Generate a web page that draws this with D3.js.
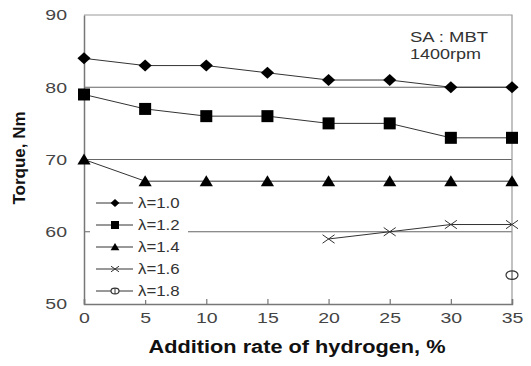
<!DOCTYPE html>
<html lang="en">
<head>
<meta charset="UTF-8">
<title>Torque vs hydrogen addition</title>
<script src="https://d3js.org/d3.v7.min.js"></script>
<style>
  body { margin: 0; background: #fff; }
  text { font-family: "Liberation Sans", Arial, sans-serif; }
</style>
</head>
<body>
<svg id="chart" width="531" height="366"></svg>
<script>
// data
const rates = [0, 5, 10, 15, 20, 25, 30, 35];
const lambda10 = [84, 83, 83, 82, 81, 81, 80, 80];
const lambda12 = [79, 77, 76, 76, 75, 75, 73, 73];
const lambda14 = [70, 67, 67, 67, 67, 67, 67, 67];
const lambda16Rates = [20, 25, 30, 35];
const lambda16 = [59, 60, 61, 61];
const lambda18Rates = [35];
const lambda18 = [54];
const yTicks = [50, 60, 70, 80, 90];
const gridValues = [60, 70, 80];

const series = [
  { name: 'λ=1.0', xs: rates, ys: lambda10, marker: 'diamond' },
  { name: 'λ=1.2', xs: rates, ys: lambda12, marker: 'square' },
  { name: 'λ=1.4', xs: rates, ys: lambda14, marker: 'triangle' },
  { name: 'λ=1.6', xs: lambda16Rates, ys: lambda16, marker: 'cross' },
  { name: 'λ=1.8', xs: lambda18Rates, ys: lambda18, marker: 'circle' }
];

const svg = d3.select('#chart');
const x = d3.scaleLinear().domain([0, 35]).range([84, 512]);
const y = d3.scaleLinear().domain([50, 90]).range([304, 15]);
const axisColor = '#777';
const lineColor = '#333';

// stretch text horizontally like the original picture
function stretch(sel, k) {
  sel.each(function () {
    const w = this.getComputedTextLength();
    d3.select(this).attr('textLength', w * k).attr('lengthAdjust', 'spacingAndGlyphs');
  });
}

// gridlines
svg.append('g').selectAll('line').data(gridValues).join('line')
  .attr('x1', x(0)).attr('x2', x(35))
  .attr('y1', d => y(d)).attr('y2', d => y(d))
  .attr('stroke', '#666').attr('stroke-width', 1.2);

// top and right border
svg.append('path')
  .attr('d', `M${x(0)},${y(90)}H${x(35)}V${y(50)}`)
  .attr('fill', 'none').attr('stroke', '#999').attr('stroke-width', 1.2);

// axes
const yAxis = svg.append('g').attr('transform', `translate(${x(0)},0)`)
  .call(d3.axisLeft(y).tickValues(yTicks).tickSize(0).tickPadding(17));
const xAxis = svg.append('g').attr('transform', `translate(0,${y(50)})`)
  .call(d3.axisBottom(x).tickValues(rates).tickSize(-5).tickPadding(8));
[yAxis, xAxis].forEach(a => {
  a.select('.domain').attr('stroke', axisColor).attr('stroke-width', 1.5);
  a.selectAll('.tick line').attr('stroke', axisColor).attr('stroke-width', 1.2);
  a.selectAll('text').attr('font-size', 15).attr('fill', '#444').attr('font-family', null);
});
stretch(yAxis.selectAll('text'), 1.3);
stretch(xAxis.selectAll('text'), 1.3);

function drawMarker(g, type, cx, cy, s) {
  if (type === 'diamond') {
    g.append('path').attr('d', `M${cx},${cy - s * 0.5}L${cx + s * 0.55},${cy}L${cx},${cy + s * 0.5}L${cx - s * 0.55},${cy}Z`)
      .attr('fill', '#000');
  } else if (type === 'square') {
    g.append('rect').attr('x', cx - s * 0.5).attr('y', cy - s * 0.5)
      .attr('width', s).attr('height', s).attr('fill', '#000');
  } else if (type === 'triangle') {
    g.append('path').attr('d', `M${cx},${cy - s * 0.5}L${cx + s * 0.55},${cy + s * 0.42}L${cx - s * 0.55},${cy + s * 0.42}Z`)
      .attr('fill', '#000');
  } else if (type === 'cross') {
    const h = s * 0.5, v = s * 0.35;
    g.append('path').attr('d', `M${cx - h},${cy - v}L${cx + h},${cy + v}M${cx - h},${cy + v}L${cx + h},${cy - v}`)
      .attr('stroke', '#333').attr('stroke-width', 1);
  } else if (type === 'circle') {
    g.append('ellipse').attr('cx', cx).attr('cy', cy).attr('rx', s * 0.5).attr('ry', s * 0.36)
      .attr('fill', '#fff').attr('stroke', '#333').attr('stroke-width', 1.2);
    g.append('line').attr('x1', cx).attr('x2', cx).attr('y1', cy - s * 0.36).attr('y2', cy + s * 0.36)
      .attr('stroke', '#333').attr('stroke-width', 1);
  }
}

// legend (white box hides part of 60 gridline)
const legend = svg.append('g');
legend.append('rect').attr('x', 90).attr('y', 190).attr('width', 98).attr('height', 110).attr('fill', '#fff');
series.forEach((s, i) => {
  const ly = 203 + i * 22;
  legend.append('line').attr('x1', 96).attr('x2', 133).attr('y1', ly).attr('y2', ly)
    .attr('stroke', lineColor).attr('stroke-width', 1);
  drawMarker(legend, s.marker, 115, ly, 8);
  const t = legend.append('text').attr('x', 138).attr('y', ly + 5)
    .attr('font-size', 14).attr('fill', '#333').text(s.name);
  stretch(t, 1.2);
});

// series lines and markers
const line = d3.line().x(d => x(d[0])).y(d => y(d[1]));
series.forEach(s => {
  const pts = s.xs.map((v, i) => [v, s.ys[i]]);
  svg.append('path').datum(pts).attr('d', line)
    .attr('fill', 'none').attr('stroke', lineColor).attr('stroke-width', 1);
  const g = svg.append('g');
  pts.forEach(p => drawMarker(g, s.marker, x(p[0]), y(p[1]), 12));
});

// annotation
const note1 = svg.append('text').attr('x', 410).attr('y', 42).attr('font-size', 14).attr('fill', '#333').text('SA : MBT');
const note2 = svg.append('text').attr('x', 410).attr('y', 59).attr('font-size', 14).attr('fill', '#333').text('1400rpm');
note1.attr('textLength', 78).attr('lengthAdjust', 'spacingAndGlyphs');
note2.attr('textLength', 71).attr('lengthAdjust', 'spacingAndGlyphs');

// axis titles
svg.append('text').attr('x', 297).attr('y', 353).attr('text-anchor', 'middle')
  .attr('font-size', 18).attr('font-weight', 'bold').attr('fill', '#111')
  .attr('textLength', 297).attr('lengthAdjust', 'spacingAndGlyphs')
  .text('Addition rate of hydrogen, %');
svg.append('text').attr('transform', 'translate(25,158) rotate(-90)').attr('text-anchor', 'middle')
  .attr('font-size', 16).attr('font-weight', 'bold').attr('fill', '#111')
  .attr('textLength', 93).attr('lengthAdjust', 'spacingAndGlyphs')
  .text('Torque, Nm');
</script>
</body>
</html>
